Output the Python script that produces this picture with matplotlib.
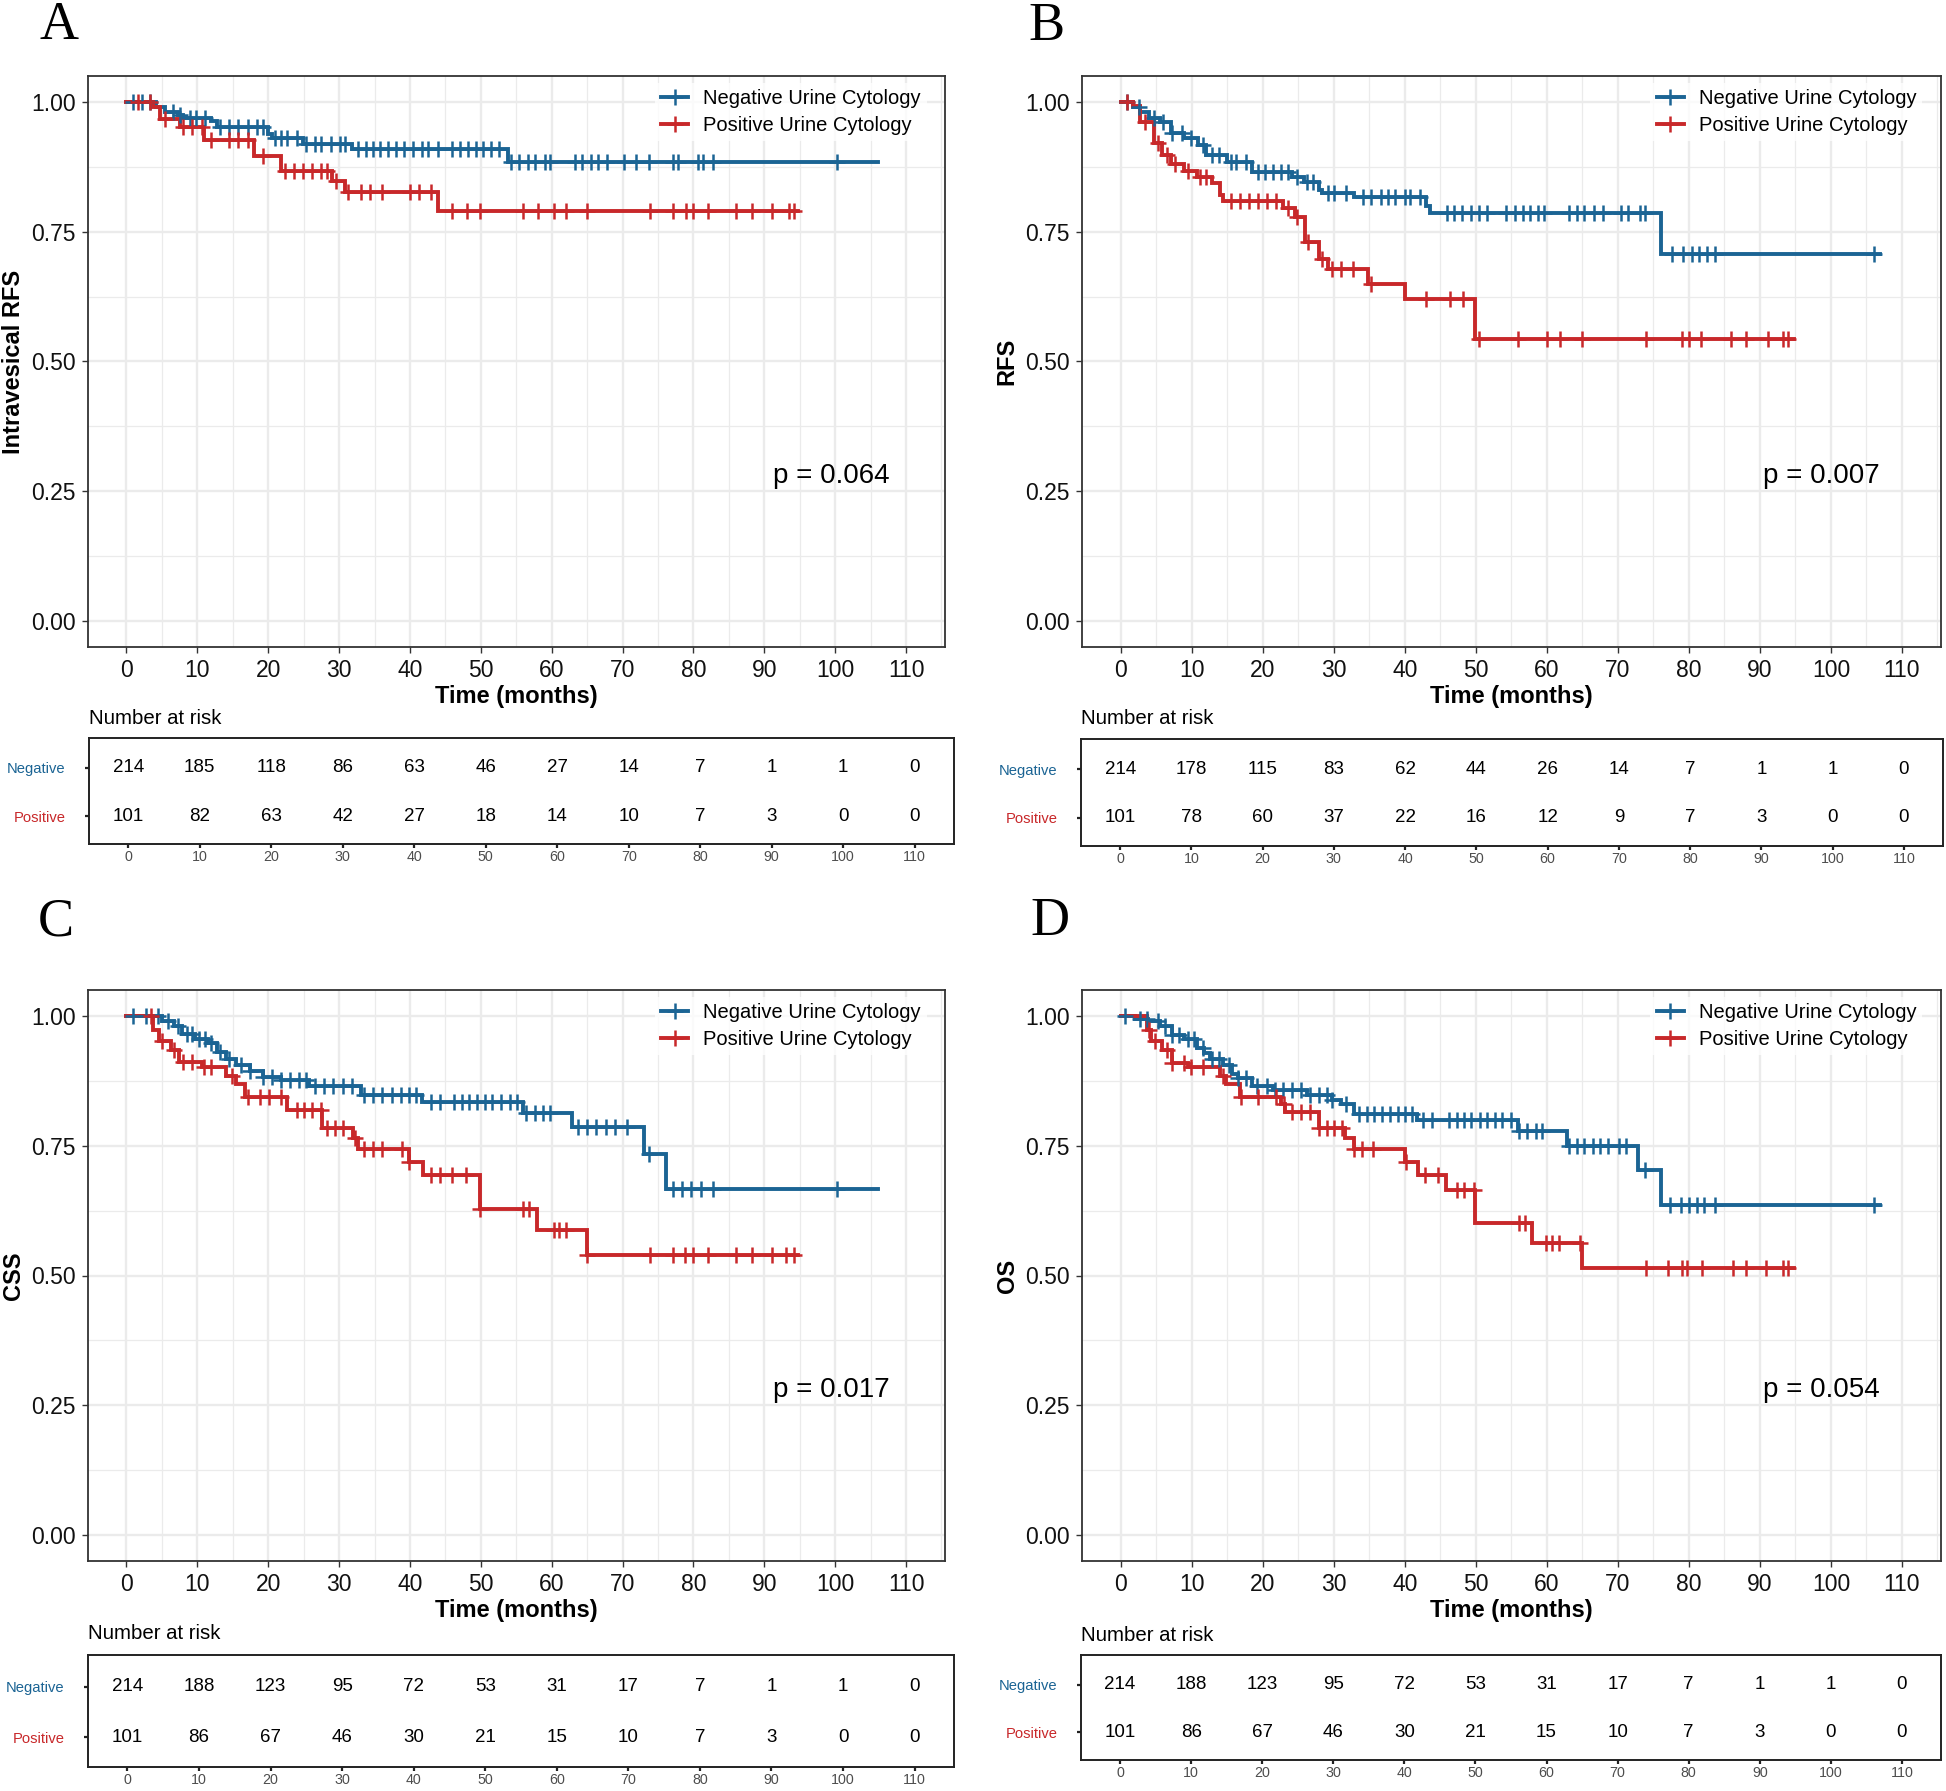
import numpy as np
import matplotlib.pyplot as plt
from matplotlib.lines import Line2D

plt.rcParams['font.family'] = ['Liberation Sans', 'DejaVu Sans']

BLUE = '#1B6494'
RED = '#C8282A'
W, H = 1946, 1791

time_ticks = list(range(0, 111, 10))
groups = ['Negative Urine Cytology', 'Positive Urine Cytology']

# ---- Panel A: intravesical RFS ----
a_neg_times = [0, 4.1, 5.4, 7.2, 8.0, 11.9, 12.8, 19.9, 20.5, 24.9, 31.8, 53.8]
a_neg_surv = [1.0, 0.990, 0.980, 0.975, 0.970, 0.964, 0.952, 0.938, 0.930, 0.919, 0.909, 0.885]
a_neg_end = 106.0
a_neg_cens = [0.9, 2.2, 3.3, 6.6, 7.6, 8.9, 9.8, 11.1, 13.2, 14.5, 15.8, 17.1, 18.4, 19.3, 21.0, 21.8,
              22.7, 24.0, 25.3, 26.6, 27.5, 28.8, 30.1, 30.9, 32.6, 33.8, 34.8, 35.8, 36.9, 38.1, 39.1,
              40.4, 41.7, 42.6, 43.9, 46.0, 47.1, 48.2, 49.3, 50.3, 51.5, 52.5, 54.2, 55.4, 56.6, 57.7,
              59.0, 59.8, 63.3, 64.3, 65.5, 66.6, 67.8, 70.2, 71.9, 73.7, 77.1, 77.8, 80.6, 81.4, 82.7, 100.2]
a_pos_times = [0, 3.7, 4.7, 7.6, 11.0, 18.0, 21.8, 29.0, 30.9, 44.0]
a_pos_surv = [1.0, 0.990, 0.968, 0.951, 0.926, 0.896, 0.867, 0.847, 0.826, 0.790]
a_pos_end = 94.8
a_pos_cens = [1.6, 3.3, 5.4, 8.0, 9.3, 10.6, 11.9, 14.5, 15.8, 17.1, 19.3, 22.3, 23.6, 24.9, 26.2, 27.5,
              28.3, 29.6, 31.3, 33.1, 34.4, 36.1, 40.0, 41.3, 43.0, 46.0, 48.0, 49.9, 56.0, 58.1, 60.3,
              62.0, 65.0, 73.9, 77.1, 79.0, 79.9, 82.0, 86.0, 88.3, 91.1, 93.5, 94.2]
a_risk_neg = [214, 185, 118, 86, 63, 46, 27, 14, 7, 1, 1, 0]
a_risk_pos = [101, 82, 63, 42, 27, 18, 14, 10, 7, 3, 0, 0]

# ---- Panel B: RFS ----
b_neg_times = [0, 1.7, 2.8, 4.0, 5.6, 7.1, 9.0, 10.9, 12.0, 15.0, 18.5, 24.1, 25.8, 27.9, 28.4, 32.9,
               43.0, 43.6, 76.1]
b_neg_surv = [1.0, 0.990, 0.981, 0.970, 0.961, 0.941, 0.930, 0.917, 0.897, 0.885, 0.865, 0.855, 0.845,
              0.831, 0.824, 0.817, 0.799, 0.786, 0.707]
b_neg_end = 106.9
b_neg_cens = [0.9, 2.6, 4.7, 6.0, 7.3, 8.6, 9.9, 11.6, 12.9, 13.8, 15.5, 16.3, 17.6, 19.3, 20.4, 21.5,
              22.6, 23.6, 24.9, 26.2, 27.1, 29.2, 30.1, 31.8, 34.1, 35.3, 36.6, 37.6, 38.7, 40.0, 40.8,
              42.1, 46.0, 47.0, 48.1, 49.4, 50.5, 51.6, 54.2, 55.5, 56.6, 57.6, 58.7, 59.6, 63.2, 64.3,
              65.3, 66.6, 67.9, 70.5, 71.4, 73.1, 73.8, 77.6, 79.2, 80.4, 81.5, 82.5, 83.7, 106.0]
b_pos_times = [0, 1.7, 2.8, 4.7, 5.8, 7.1, 8.9, 10.7, 12.9, 14.0, 14.4, 22.8, 24.5, 26.0, 27.9, 29.2,
               34.8, 40.0, 49.9]
b_pos_surv = [1.0, 0.993, 0.961, 0.920, 0.898, 0.881, 0.867, 0.855, 0.843, 0.821, 0.810, 0.795, 0.778,
              0.731, 0.697, 0.679, 0.650, 0.621, 0.543]
b_pos_end = 94.8
b_pos_cens = [0.9, 3.4, 5.2, 6.6, 7.7, 9.5, 11.2, 12.0, 15.5, 16.8, 18.1, 19.3, 20.6, 21.9, 23.6, 24.9,
              26.4, 28.4, 29.7, 31.0, 32.7, 35.3, 43.0, 46.4, 48.2, 50.5, 55.9, 60.0, 61.9, 64.9, 73.9,
              79.1, 80.0, 81.7, 86.0, 88.1, 91.1, 93.3, 94.0]
b_risk_neg = [214, 178, 115, 83, 62, 44, 26, 14, 7, 1, 1, 0]
b_risk_pos = [101, 78, 60, 37, 22, 16, 12, 9, 7, 3, 0, 0]

# ---- Panel C: CSS ----
c_neg_times = [0, 5.0, 6.7, 7.9, 9.6, 11.5, 12.8, 14.1, 15.4, 17.5, 19.3, 21.8, 25.7, 33.1, 41.7, 56.0,
               62.9, 73.0, 76.1]
c_neg_surv = [1.0, 0.990, 0.980, 0.965, 0.955, 0.947, 0.930, 0.918, 0.905, 0.893, 0.883, 0.876, 0.866,
              0.847, 0.834, 0.813, 0.786, 0.734, 0.667]
c_neg_end = 106.0
c_neg_cens = [0.9, 2.8, 4.4, 5.9, 7.2, 8.5, 9.3, 10.2, 11.1, 11.9, 13.2, 14.5, 16.2, 17.5, 19.3, 20.6,
              21.8, 23.1, 24.4, 25.3, 26.6, 27.9, 29.2, 30.5, 31.8, 33.5, 34.8, 36.1, 37.4, 38.7, 39.8,
              40.8, 43.0, 44.3, 46.2, 47.3, 48.4, 49.5, 50.6, 51.6, 52.9, 54.1, 55.1, 56.4, 57.7, 58.8,
              59.8, 63.7, 65.0, 66.3, 67.6, 68.9, 70.6, 73.7, 77.1, 78.4, 79.7, 81.0, 82.7, 100.2]
c_pos_times = [0, 3.7, 4.6, 6.3, 7.4, 10.6, 14.1, 15.4, 16.7, 22.7, 27.6, 32.0, 32.6, 39.8, 41.9, 49.9,
               57.9, 65.0]
c_pos_surv = [1.0, 0.973, 0.951, 0.934, 0.912, 0.901, 0.884, 0.868, 0.843, 0.818, 0.784, 0.764, 0.744,
              0.719, 0.693, 0.628, 0.587, 0.539]
c_pos_end = 94.8
c_pos_cens = [3.5, 5.0, 6.7, 8.0, 9.3, 10.9, 11.9, 14.9, 17.1, 18.8, 20.1, 21.8, 24.0, 25.1, 26.2, 27.5,
              28.3, 29.4, 30.5, 32.2, 33.5, 34.8, 36.1, 38.9, 39.8, 43.0, 44.3, 46.0, 47.9, 49.9, 56.0,
              56.8, 60.3, 61.1, 62.0, 65.0, 73.9, 77.1, 78.8, 79.9, 82.0, 86.0, 88.2, 91.1, 93.1, 94.2]
c_risk_neg = [214, 188, 123, 95, 72, 53, 31, 17, 7, 1, 1, 0]
c_risk_pos = [101, 86, 67, 46, 30, 21, 15, 10, 7, 3, 0, 0]

# ---- Panel D: OS ----
d_neg_times = [0, 2.1, 3.9, 5.6, 7.3, 8.9, 10.7, 11.8, 12.6, 14.4, 15.7, 16.6, 18.5, 21.5, 26.2, 29.7,
               31.0, 32.8, 41.7, 55.9, 62.8, 72.9, 76.1]
d_neg_surv = [1.0, 0.995, 0.990, 0.980, 0.963, 0.955, 0.938, 0.928, 0.918, 0.905, 0.888, 0.880, 0.866,
              0.857, 0.848, 0.838, 0.830, 0.812, 0.799, 0.778, 0.749, 0.703, 0.636]
d_neg_end = 106.9
d_neg_cens = [0.6, 2.8, 3.7, 5.2, 6.3, 7.3, 8.2, 9.5, 10.3, 11.6, 12.9, 13.8, 15.2, 16.6, 17.6, 19.2,
              20.6, 21.8, 22.8, 24.1, 25.4, 26.7, 27.9, 29.1, 29.7, 31.8, 33.5, 34.7, 35.7, 36.8, 37.9,
              39.0, 40.0, 41.0, 42.6, 43.9, 46.2, 47.3, 48.4, 49.4, 50.6, 51.6, 52.7, 53.7, 54.9, 56.1,
              57.2, 58.5, 59.3, 63.2, 64.3, 65.3, 66.5, 67.5, 68.6, 70.1, 71.2, 73.8, 77.4, 78.9, 80.0,
              81.1, 82.1, 83.7, 106.0]
d_pos_times = [0, 3.7, 4.3, 5.8, 7.3, 9.5, 14.0, 14.9, 16.8, 22.6, 23.2, 27.9, 31.6, 32.8, 40.0, 41.9,
               45.8, 49.9, 57.9, 65.0]
d_pos_surv = [1.0, 0.972, 0.951, 0.934, 0.909, 0.901, 0.884, 0.868, 0.843, 0.830, 0.815, 0.784, 0.765,
              0.744, 0.719, 0.693, 0.664, 0.601, 0.562, 0.515]
d_pos_end = 94.8
d_pos_cens = [4.0, 4.9, 6.6, 7.3, 8.9, 9.9, 11.6, 14.4, 16.9, 19.3, 21.9, 23.0, 24.2, 25.4, 26.7, 27.9,
              29.0, 30.1, 31.2, 32.8, 34.0, 35.5, 40.2, 42.8, 44.7, 47.3, 48.4, 49.7, 56.1, 57.0, 59.9,
              60.8, 61.7, 64.7, 73.9, 77.0, 79.1, 79.7, 81.9, 86.2, 88.1, 90.9, 93.3, 94.0]
d_risk_neg = [214, 188, 123, 95, 72, 53, 31, 17, 7, 1, 1, 0]
d_risk_pos = [101, 86, 67, 46, 30, 21, 15, 10, 7, 3, 0, 0]


def px_axes(fig, x0, y0, x1, y1):
    # pixel box (top-left origin) -> figure fraction
    return fig.add_axes([x0 / W, 1 - y1 / H, (x1 - x0) / W, (y1 - y0) / H])


def draw_km(ax, neg, pos, ylabel, pval, px):
    for (times, surv, end, cens), col in ((neg, BLUE), (pos, RED)):
        ax.step(list(times) + [end], list(surv) + [surv[-1]], where='post',
                color=col, lw=2.8, zorder=3, solid_joinstyle='miter')
        idx = np.searchsorted(times, cens, side='right') - 1
        ax.plot(cens, np.array(surv)[idx], ls='none', marker='+', ms=12, mew=1.8,
                color=col, zorder=4)

    ax.set_xlim(-5.5, 115.5)
    ax.set_ylim(-0.05, 1.05)
    ax.set_xticks(time_ticks)
    ax.set_yticks([0, 0.25, 0.5, 0.75, 1.0])
    ax.set_yticklabels(['0.00', '0.25', '0.50', '0.75', '1.00'])
    ax.set_xticks(np.arange(5, 116, 10), minor=True)
    ax.set_yticks([0.125, 0.375, 0.625, 0.875], minor=True)
    ax.grid(which='major', color='#EBEBEB', lw=1.7, zorder=0)
    ax.grid(which='minor', color='#EBEBEB', lw=0.9, zorder=0)
    ax.set_axisbelow(True)
    ax.tick_params(which='major', length=4.5, width=1.0, color='#333333',
                   labelsize=16.5, labelcolor='#111111', pad=4)
    ax.tick_params(which='minor', length=0)
    for s in ax.spines.values():
        s.set_color('#333333')
        s.set_linewidth(1.3)

    ax.set_xlabel('Time (months)', fontsize=17, fontweight='bold')
    ax.xaxis.set_label_coords(0.5, -0.067)
    ax.set_ylabel(ylabel, fontsize=17, fontweight='bold')
    ax.yaxis.set_label_coords(-0.073, 0.5)

    ax.text(px, 0.28, pval, fontsize=20, ha='center', va='center')

    handles = [Line2D([], [], color=BLUE, lw=2.8, marker='+', ms=12, mew=1.8),
               Line2D([], [], color=RED, lw=2.8, marker='+', ms=12, mew=1.8)]
    leg = ax.legend(handles, groups, loc='upper left', bbox_to_anchor=(0.662, 0.988),
                    fontsize=14.5, frameon=True, fancybox=False, borderpad=0.3,
                    handlelength=1.35, handletextpad=0.75, labelspacing=0.42,
                    borderaxespad=0)
    leg.get_frame().set_facecolor('white')
    leg.get_frame().set_edgecolor('none')


def draw_table(ax, neg, pos):
    for t, n in zip(time_ticks, neg):
        ax.text(t, 2, str(n), ha='center', va='center', fontsize=13.5)
    for t, n in zip(time_ticks, pos):
        ax.text(t, 1, str(n), ha='center', va='center', fontsize=13.5)
    ax.set_xlim(-5.5, 115.5)
    ax.set_ylim(0.42, 2.62)
    ax.set_xticks(time_ticks)
    ax.set_yticks([1, 2])
    ax.set_yticklabels(['Positive', 'Negative'])
    for lab, col in zip(ax.get_yticklabels(), [RED, BLUE]):
        lab.set_color(col)
    ax.tick_params(axis='y', length=3, width=1.6, color='#222222', labelsize=10.6, pad=14)
    ax.tick_params(axis='x', length=3, width=1.6, color='#222222', labelsize=10.3,
                   labelcolor='#4D4D4D', pad=1.5)
    for s in ax.spines.values():
        s.set_color('#222222')
        s.set_linewidth(1.4)
    ax.text(0, 1 + 20 / 106, 'Number at risk', transform=ax.transAxes,
            fontsize=14.7, ha='left', va='center')


fig = plt.figure(figsize=(W / 100, H / 100), dpi=100)

ax_a = px_axes(fig, 87.5, 76, 945, 647)
draw_km(ax_a, (a_neg_times, a_neg_surv, a_neg_end, a_neg_cens),
        (a_pos_times, a_pos_surv, a_pos_end, a_pos_cens), 'Intravesical RFS', 'p = 0.064', 99.5)
ax_b = px_axes(fig, 1081.5, 76, 1941, 647)
draw_km(ax_b, (b_neg_times, b_neg_surv, b_neg_end, b_neg_cens),
        (b_pos_times, b_pos_surv, b_pos_end, b_pos_cens), 'RFS', 'p = 0.007', 98.6)
ax_c = px_axes(fig, 87.5, 990, 945, 1561)
draw_km(ax_c, (c_neg_times, c_neg_surv, c_neg_end, c_neg_cens),
        (c_pos_times, c_pos_surv, c_pos_end, c_pos_cens), 'CSS', 'p = 0.017', 99.5)
ax_d = px_axes(fig, 1081.5, 990, 1941, 1561)
draw_km(ax_d, (d_neg_times, d_neg_surv, d_neg_end, d_neg_cens),
        (d_pos_times, d_pos_surv, d_pos_end, d_pos_cens), 'OS', 'p = 0.054', 98.6)

draw_table(px_axes(fig, 89, 738, 954, 844), a_risk_neg, a_risk_pos)
draw_table(px_axes(fig, 1081, 739, 1943, 846), b_risk_neg, b_risk_pos)
draw_table(px_axes(fig, 88, 1655, 954, 1767), c_risk_neg, c_risk_pos)
draw_table(px_axes(fig, 1081, 1655, 1941, 1760), d_risk_neg, d_risk_pos)

# panel letters
for letter, x, y in (('A', 40, 39), ('B', 1028, 40), ('C', 38, 935), ('D', 1030, 935)):
    fig.text(x / W, 1 - y / H, letter, fontsize=39, family='Liberation Serif',
             ha='left', va='baseline')

fig.savefig('out.png', dpi=100)
